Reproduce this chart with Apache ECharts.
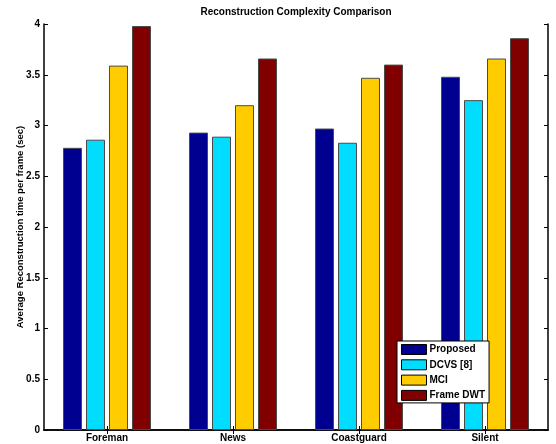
<!DOCTYPE html>
<html>
<head>
<meta charset="utf-8">
<script src="https://cdn.jsdelivr.net/npm/echarts@6/dist/echarts.min.js"></script>
<style>
  html, body { margin: 0; padding: 0; background: #fff; }
  #chart { width: 556px; height: 444px; }
</style>
</head>
<body>
<div id="chart"></div>
<script>
// Average reconstruction time per frame (seconds) for each test sequence
const sequences = ['Foreman', 'News', 'Coastguard', 'Silent'];
const proposed  = [2.78, 2.93, 2.97, 3.48];
const dcvs      = [2.86, 2.89, 2.83, 3.25];
const mci       = [3.59, 3.20, 3.47, 3.66];
const frameDwt  = [3.98, 3.66, 3.60, 3.86];
const methodNames = ['Proposed', 'DCVS [8]', 'MCI', 'Frame DWT'];
const methodColors = ['#000090', '#00DDFF', '#FFCC00', '#800000'];
const yTicks = [0, 0.5, 1, 1.5, 2, 2.5, 3, 3.5, 4];

const FONT = '"Liberation Sans", Arial, sans-serif';
const seriesValues = [proposed, dcvs, mci, frameDwt];

const chart = echarts.init(document.getElementById('chart'), null, { renderer: 'canvas' });

const tickStyle = { show: true, inside: true, length: 4, lineStyle: { color: '#000', width: 1 } };
const lineStyle = { show: true, lineStyle: { color: '#000', width: 1.5 } };

chart.setOption({
  animation: false,
  backgroundColor: '#fff',
  title: {
    text: 'Reconstruction Complexity Comparison',
    left: 296,
    textAlign: 'center',
    top: 7,
    padding: 0,
    textStyle: { fontFamily: FONT, fontSize: 10, fontWeight: 'bold', color: '#000' }
  },
  legend: {
    orient: 'vertical',
    left: 397,
    top: 341,
    padding: [3, 4, 2, 4],
    itemWidth: 25,
    itemHeight: 10,
    itemGap: 4.3,
    icon: 'rect',
    backgroundColor: '#fff',
    borderColor: '#000',
    borderWidth: 1,
    data: methodNames,
    itemStyle: { borderColor: '#000', borderWidth: 1 },
    textStyle: { fontFamily: FONT, fontSize: 10, fontWeight: 'bold', color: '#000', lineHeight: 10, padding: [0, 0, 0, -2] }
  },
  grid: { left: 44, top: 24, right: 8, bottom: 14 },
  xAxis: [
    {
      type: 'category',
      data: sequences,
      position: 'bottom',
      axisLine: lineStyle,
      axisTick: Object.assign({ alignWithLabel: true }, tickStyle),
      axisLabel: { fontFamily: FONT, fontSize: 10, fontWeight: 'bold', color: '#000', margin: 3 }
    },
    {
      type: 'category',
      data: sequences,
      position: 'top',
      axisLine: lineStyle,
      axisTick: Object.assign({ alignWithLabel: true }, tickStyle),
      axisLabel: { show: false }
    }
  ],
  yAxis: [
    {
      type: 'value',
      min: 0,
      max: 4,
      interval: 0.5,
      position: 'left',
      name: 'Average Reconstruction time per frame (sec)',
      nameLocation: 'middle',
      nameGap: 19,
      nameMoveOverlap: false,
      nameTextStyle: { fontFamily: FONT, fontSize: 9.5, fontWeight: 'bold', color: '#000' },
      axisLine: lineStyle,
      axisTick: tickStyle,
      splitLine: { show: false },
      axisLabel: {
        fontFamily: FONT, fontSize: 10, fontWeight: 'bold', color: '#000', margin: 4,
        formatter: v => (yTicks.indexOf(v) >= 0 ? String(v) : '')
      }
    },
    {
      type: 'value',
      min: 0,
      max: 4,
      interval: 0.5,
      position: 'right',
      axisLine: lineStyle,
      axisTick: tickStyle,
      splitLine: { show: false },
      axisLabel: { show: false }
    }
  ],
  series: methodNames.map((name, i) => ({
    name: name,
    type: 'bar',
    xAxisIndex: 0,
    yAxisIndex: 0,
    data: seriesValues[i],
    barWidth: 19,
    barGap: '21%',
    itemStyle: { color: methodColors[i], borderColor: '#4a4a4a', borderWidth: 1 }
  }))
});
</script>
</body>
</html>
